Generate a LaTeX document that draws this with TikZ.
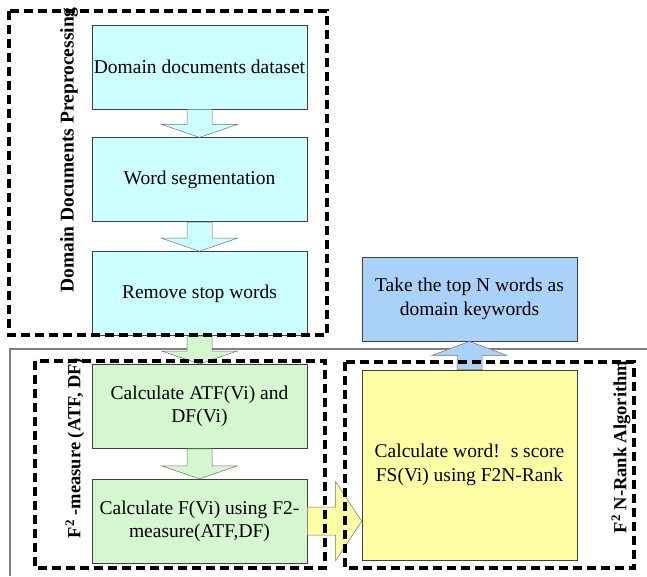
\documentclass[tikz,border=0pt]{standalone}
\usepackage{fontspec}
\setmainfont{Liberation Serif}
\usetikzlibrary{positioning,calc}
\definecolor{cyanbox}{HTML}{CCFFFF}
\definecolor{greenbox}{HTML}{D4F7CF}
\definecolor{yellowbox}{HTML}{FFFFA6}
\definecolor{bluebox}{HTML}{A9D1FA}
\tikzset{
  box/.style={draw=black!75,line width=0.8pt,minimum width=215pt,minimum height=84pt,
    align=center,inner sep=0pt,font=\fontsize{19.5}{23.5}\selectfont},
  grp/.style={draw=black,line width=3.2pt,dash pattern=on 9pt off 5pt},
  grplabel/.style={rotate=90,inner sep=0pt,font=\bfseries\fontsize{18.5}{22}\selectfont},
  blockarrow/.style={draw=black!55,line width=0.5pt},
}
\newcommand{\downblock}[3]{%
  \filldraw[blockarrow,fill=#3] ($(#1.south)+(-12.5,0)$) -- ($(#2.north)+(-12.5,-13)$)
    -- ($(#2.north)+(-38,-13)$) -- (#2.north) -- ($(#2.north)+(38,-13)$)
    -- ($(#2.north)+(12.5,-13)$) -- ($(#1.south)+(12.5,0)$) -- cycle;}
\begin{document}
\begin{tikzpicture}[x=1pt,y=-1pt]
    \useasboundingbox (0,0) rectangle (647,576);
    \draw[black!50,line width=1.2pt] (10,576) -- (10,349) -- (647,349);
    \node[box,fill=cyanbox] (ds) at (199.5,67) {Domain documents dataset};
    \node[box,fill=cyanbox,below=28pt of ds] (ws) {Word segmentation};
    \node[box,fill=cyanbox,below=29pt of ws] (rs) {Remove stop words};
    \node[box,fill=greenbox,below=28pt of rs] (atf) {Calculate ATF(Vi) and\\DF(Vi)};
    \node[box,fill=greenbox,below=30pt of atf] (fv) {Calculate F(Vi) using F2-\\measure(ATF,DF)};
    \node[box,fill=yellowbox,minimum height=190pt] (yb) at (469.5,465) {Calculate word!\hspace{11pt}s score\\FS(Vi) using F2N-Rank};
    \node[box,fill=bluebox] (kw) at (469.5,299) {Take the top N words as\\domain keywords};
    \downblock{ds}{ws}{cyanbox}
    \downblock{ws}{rs}{cyanbox}
    \downblock{rs}{atf}{greenbox}
    \downblock{atf}{fv}{greenbox}
    \filldraw[blockarrow,fill=bluebox] ($(yb.north)+(-12.5,0)$) -- ($(kw.south)+(-12.5,14)$)
      -- ($(kw.south)+(-37.5,14)$) -- (kw.south) -- ($(kw.south)+(37.5,14)$)
      -- ($(kw.south)+(12.5,14)$) -- ($(yb.north)+(12.5,0)$) -- cycle;
    \coordinate (tip) at (yb.west |- fv.east);
    \filldraw[blockarrow,fill=yellowbox] ($(fv.east)+(0,-14)$) -- ($(tip)+(-26,-14)$)
      -- ($(tip)+(-26,-39.5)$) -- (tip) -- ($(tip)+(-26,39.5)$)
      -- ($(tip)+(-26,14)$) -- ($(fv.east)+(0,14)$) -- cycle;
    \draw[grp] (9,11) rectangle (327,335);
    \draw[grp] (35,361) rectangle (325,568);
    \draw[grp] (345,362) rectangle (634,568);
    \node[grplabel,font=\bfseries\fontsize{19.5}{22}\selectfont] (lpre) at (69,150) {Domain Documents Preprocessing};
    \node[grplabel] (lmea) at (75,448) {F\textsuperscript{2} -measure (ATF, DF)};
    \node[grplabel] (lrank) at (621,447) {F\textsuperscript{2} N-Rank Algorithm};
\end{tikzpicture}
\end{document}
